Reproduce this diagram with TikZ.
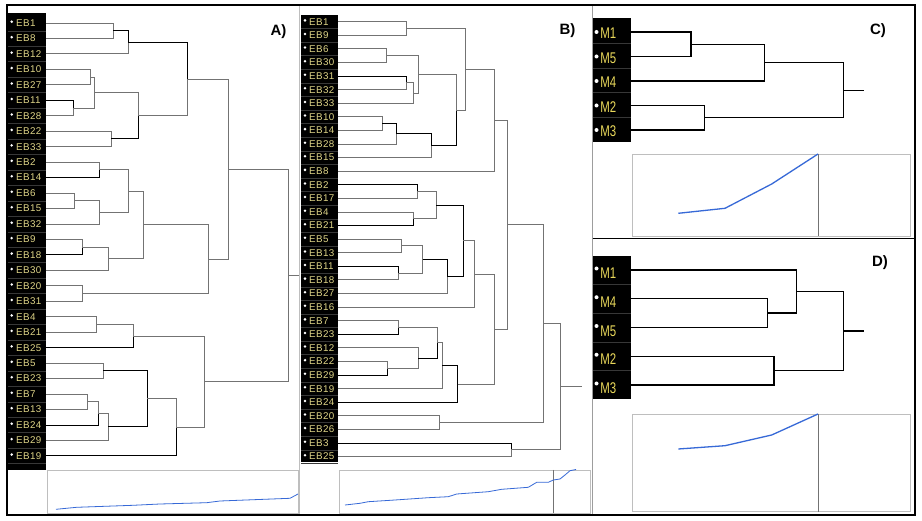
\documentclass[tikz,border=0pt]{standalone}
\usepackage{fontspec}
\setmainfont{Liberation Sans}
\newfontfamily\ebfont[LetterSpace=4]{Liberation Sans}
\newfontfamily\mfont[FakeStretch=0.74]{Liberation Sans}
\usetikzlibrary{calc}
\definecolor{eby}{RGB}{222,212,135}
\definecolor{my}{RGB}{232,215,90}
\definecolor{gl}{RGB}{115,115,115}
\definecolor{bl}{RGB}{55,105,215}
\definecolor{bx}{RGB}{190,190,190}
\definecolor{sep}{RGB}{55,55,55}
\newcommand\jn[6]{%
  \coordinate (tmp) at ($(#3)!0.5!(#4)$);
  \coordinate (#1) at (#2,0 |- tmp);
  \draw[#5] (#3) -| (#1);
  \draw[#6] (#4) -| (#1);
}
\begin{document}
\begin{tikzpicture}[x=1pt,y=-1pt,
  gln/.style={draw=gl,line width=0.9pt},
  kln/.style={draw=black,line width=0.9pt},
  mln/.style={draw=black,line width=1.3pt},
  eblab/.style={font=\ebfont\fontsize{9.8}{10}\selectfont,text=eby,anchor=west,inner sep=0pt},
  mlab/.style={font=\mfont\fontsize{15.5}{15.5}\selectfont,text=my,anchor=west,inner sep=0pt},
  plab/.style={font=\bfseries\fontsize{15}{15}\selectfont,inner sep=0pt},
  chartbox/.style={draw=bx,line width=0.9pt},
  bline/.style={draw=bl,line width=0.8pt,line join=round},
  bline2/.style={draw=bl,line width=1.3pt,line join=round}]
\useasboundingbox (0,0) rectangle (922,521);
\fill[white] (0,0) rectangle (922,521);

% ---------- Panel A ----------
\fill[black] (8,13) rectangle (46,470);
\foreach \n [count=\i] in {EB1,EB8,EB12,EB10,EB27,EB11,EB28,EB22,EB33,EB2,EB14,EB6,EB15,EB32,EB9,EB18,EB30,EB20,EB31,EB4,EB21,EB25,EB5,EB23,EB7,EB13,EB24,EB29,EB19}{
  \pgfmathsetmacro\yy{23+15.46*(\i-1)}
  \coordinate (A\i) at (46,\yy);
  \draw[sep,line width=0.4pt] (8,\yy+7.73) -- (46,\yy+7.73);
  \node[eblab] (LA\i) at (16,\yy) {\n};
  \fill[white] (11.7,\yy-1.3) circle (1.4);
}
\jn{a1}{113}{A1}{A2}{gln}{gln}
\jn{a2}{128}{a1}{A3}{kln}{gln}
\jn{a3}{90}{A4}{A5}{gln}{gln}
\jn{a4}{73}{A6}{A7}{kln}{gln}
\jn{a5}{94}{a3}{a4}{gln}{gln}
\jn{a6}{111}{A8}{A9}{gln}{gln}
\jn{a7}{138}{a5}{a6}{gln}{kln}
\jn{a8}{187}{a2}{a7}{kln}{gln}
\jn{a9}{99}{A10}{A11}{gln}{kln}
\jn{a10}{74}{A12}{A13}{gln}{gln}
\jn{a11}{99}{a10}{A14}{gln}{gln}
\jn{a12}{128}{a9}{a11}{gln}{gln}
\jn{a13}{82}{A15}{A16}{gln}{kln}
\jn{a14}{108}{a13}{A17}{gln}{gln}
\jn{a15}{143}{a12}{a14}{gln}{gln}
\jn{a16}{82}{A18}{A19}{gln}{gln}
\jn{a17}{208}{a15}{a16}{gln}{gln}
\jn{a18}{228}{a8}{a17}{gln}{gln}
\jn{a19}{96}{A20}{A21}{gln}{gln}
\jn{a20}{133}{a19}{A22}{gln}{kln}
\jn{a21}{103}{A23}{A24}{gln}{gln}
\jn{a22}{87}{A25}{A26}{gln}{gln}
\jn{a23}{98}{a22}{A27}{gln}{kln}
\jn{a24}{108}{a23}{A28}{gln}{gln}
\jn{a25}{147}{a21}{a24}{kln}{kln}
\jn{a26}{176}{a25}{A29}{gln}{kln}
\jn{a27}{204}{a20}{a26}{gln}{gln}
\jn{a28}{288}{a18}{a27}{gln}{gln}
\coordinate (a29) at (300,0 |- a28);
\draw[gln] (a28) -- (a29);
\draw[chartbox] (47,470) rectangle (298,513);
\draw[bline] (56,509.3) -- (76.7,507.3) -- (133,505.3) -- (160,504) -- (206.7,502.7) -- (220,501) -- (290,498.3) -- (298,494);
\node[plab] (pA) at (278.5,32) {A)};

% ---------- Panel B ----------
\fill[black] (301,15) rectangle (338,462);
\foreach \n [count=\i] in {EB1,EB9,EB6,EB30,EB31,EB32,EB33,EB10,EB14,EB28,EB15,EB8,EB2,EB17,EB4,EB21,EB5,EB13,EB11,EB18,EB27,EB16,EB7,EB23,EB12,EB22,EB29,EB19,EB24,EB20,EB26,EB3,EB25}{
  \pgfmathsetmacro\yy{21.7+13.59*(\i-1)}
  \coordinate (B\i) at (338,\yy);
  \draw[sep,line width=0.4pt] (301,\yy+6.8) -- (338,\yy+6.8);
  \node[eblab] (LB\i) at (309,\yy) {\n};
  \fill[white] (305,\yy-1.3) circle (1.4);
}
\jn{b1}{406.7}{B1}{B2}{gln}{gln}
\jn{b2}{386}{B3}{B4}{gln}{gln}
\jn{b3}{406}{B5}{B6}{kln}{gln}
\jn{b4}{413.3}{b3}{B7}{gln}{gln}
\jn{b5}{418.3}{b2}{b4}{gln}{gln}
\jn{b6}{382.3}{B8}{B9}{gln}{gln}
\jn{b7}{396.7}{b6}{B10}{kln}{gln}
\jn{b8}{431}{b7}{B11}{kln}{gln}
\jn{b9}{456}{b5}{b8}{gln}{kln}
\jn{b10}{465.7}{b1}{b9}{gln}{gln}
\jn{b11}{494}{b10}{B12}{gln}{gln}
\jn{b12}{417.3}{B13}{B14}{kln}{gln}
\jn{b13}{413.3}{B15}{B16}{gln}{kln}
\jn{b14}{436}{b12}{b13}{gln}{gln}
\jn{b15}{401.7}{B17}{B18}{gln}{gln}
\jn{b16}{398.3}{B19}{B20}{kln}{gln}
\jn{b17}{422.7}{b15}{b16}{gln}{gln}
\jn{b18}{447.3}{b17}{B21}{kln}{gln}
\jn{b19}{463.3}{b14}{b18}{kln}{kln}
\jn{b20}{474.3}{b19}{B22}{gln}{gln}
\jn{b21}{398.3}{B23}{B24}{gln}{kln}
\jn{b22}{387.3}{B26}{B27}{gln}{kln}
\jn{b23}{418.3}{B25}{b22}{gln}{gln}
\jn{b24}{437.7}{b21}{b23}{gln}{kln}
\jn{b25}{442.3}{b24}{B28}{gln}{gln}
\jn{b26}{457.7}{b25}{B29}{kln}{kln}
\jn{b27}{494}{b20}{b26}{gln}{gln}
\jn{b28}{507.3}{b11}{b27}{gln}{gln}
\jn{b29}{439.3}{B30}{B31}{gln}{gln}
\jn{b30}{543.3}{b28}{b29}{gln}{gln}
\jn{b31}{511}{B32}{B33}{kln}{gln}
\jn{b32}{560.7}{b30}{b31}{gln}{gln}
\coordinate (b33) at (582.3,0 |- b32);
\draw[gln] (b32) -- (b33);
\draw[chartbox] (339.3,470) rectangle (590,513);
\draw[gl,line width=0.8pt] (553.3,470) -- (553.3,513);
\draw[bline] (345,505) -- (360,503.3) -- (368.3,501.7) -- (395,500) -- (428.3,497.7) -- (448.3,496.7) -- (456.7,494) -- (488.3,491.7) -- (501.7,489.3) -- (528.3,487.3) -- (536.7,482.3) -- (548.3,482.3) -- (553.3,480) -- (560,479) -- (565,475) -- (570,470.7) -- (576,469.5);
\node[plab] (pB) at (567.5,31) {B)};

% ---------- Panel C ----------
\fill[black] (592.7,18.3) rectangle (630.7,141.7);
\foreach \n [count=\i] in {M1,M5,M4,M2,M3}{
  \pgfmathsetmacro\yy{32+24.5*(\i-1)}
  \coordinate (C\i) at (631,\yy);
  \ifnum\i<5 \draw[sep,line width=0.6pt] (592.7,\yy+11.5) -- (630.7,\yy+11.5); \fi
  \node[mlab] (LC\i) at (600.2,\yy+1.5) {\n};
  \fill[white] (596.5,\yy) circle (2);
}
\jn{c1}{691}{C1}{C2}{mln}{mln}
\jn{c2}{764.3}{c1}{C3}{mln}{mln}
\jn{c3}{704.3}{C4}{C5}{mln}{mln}
\jn{c4}{843.3}{c2}{c3}{mln}{mln}
\coordinate (c5) at (864,0 |- c4);
\draw[mln] (c4) -- (c5);
\draw[chartbox] (632.7,154) rectangle (910.7,236.5);
\draw[gl,line width=0.9pt] (818,154) -- (818,236.5);
\draw[bline2] (678.3,213.3) -- (725,208.3) -- (771.7,184) -- (818,154);
\node[plab] (pC) at (878,31) {C)};

% ---------- Panel D ----------
\fill[black] (592.7,255.7) rectangle (630.7,399);
\foreach \n [count=\i] in {M1,M4,M5,M2,M3}{
  \pgfmathsetmacro\yy{270+28.75*(\i-1)}
  \coordinate (D\i) at (631,\yy);
  \ifnum\i<5 \draw[sep,line width=0.6pt] (592.7,\yy+14.4) -- (630.7,\yy+14.4); \fi
  \node[mlab] (LD\i) at (600.2,\yy+3.3) {\n};
  \fill[white] (596.5,\yy-1.5) circle (2);
}
\jn{d1}{767.7}{D2}{D3}{mln}{mln}
\jn{d2}{796.7}{D1}{d1}{mln}{mln}
\jn{d3}{774}{D4}{D5}{mln}{mln}
\jn{d4}{843.3}{d2}{d3}{mln}{mln}
\coordinate (d5) at (864,0 |- d4);
\draw[mln] (d4) -- (d5);
\draw[chartbox] (632.7,414) rectangle (910.7,511.7);
\draw[gl,line width=0.9pt] (818,414) -- (818,511.7);
\draw[bline2] (678.3,449) -- (725,445.7) -- (771.7,435) -- (818,414);
\node[plab] (pD) at (880,262.7) {D)};

% ---------- frame and dividers ----------
\draw[bx,line width=0.9pt] (299.5,5) -- (299.5,515);
\draw[gl!70,line width=0.9pt] (592.7,5) -- (592.7,515);
\draw[black,line width=1.6pt] (592.7,238.7) -- (915,238.7);
\draw[black,line width=2pt] (7,5) rectangle (915,515);
\end{tikzpicture}
\end{document}
